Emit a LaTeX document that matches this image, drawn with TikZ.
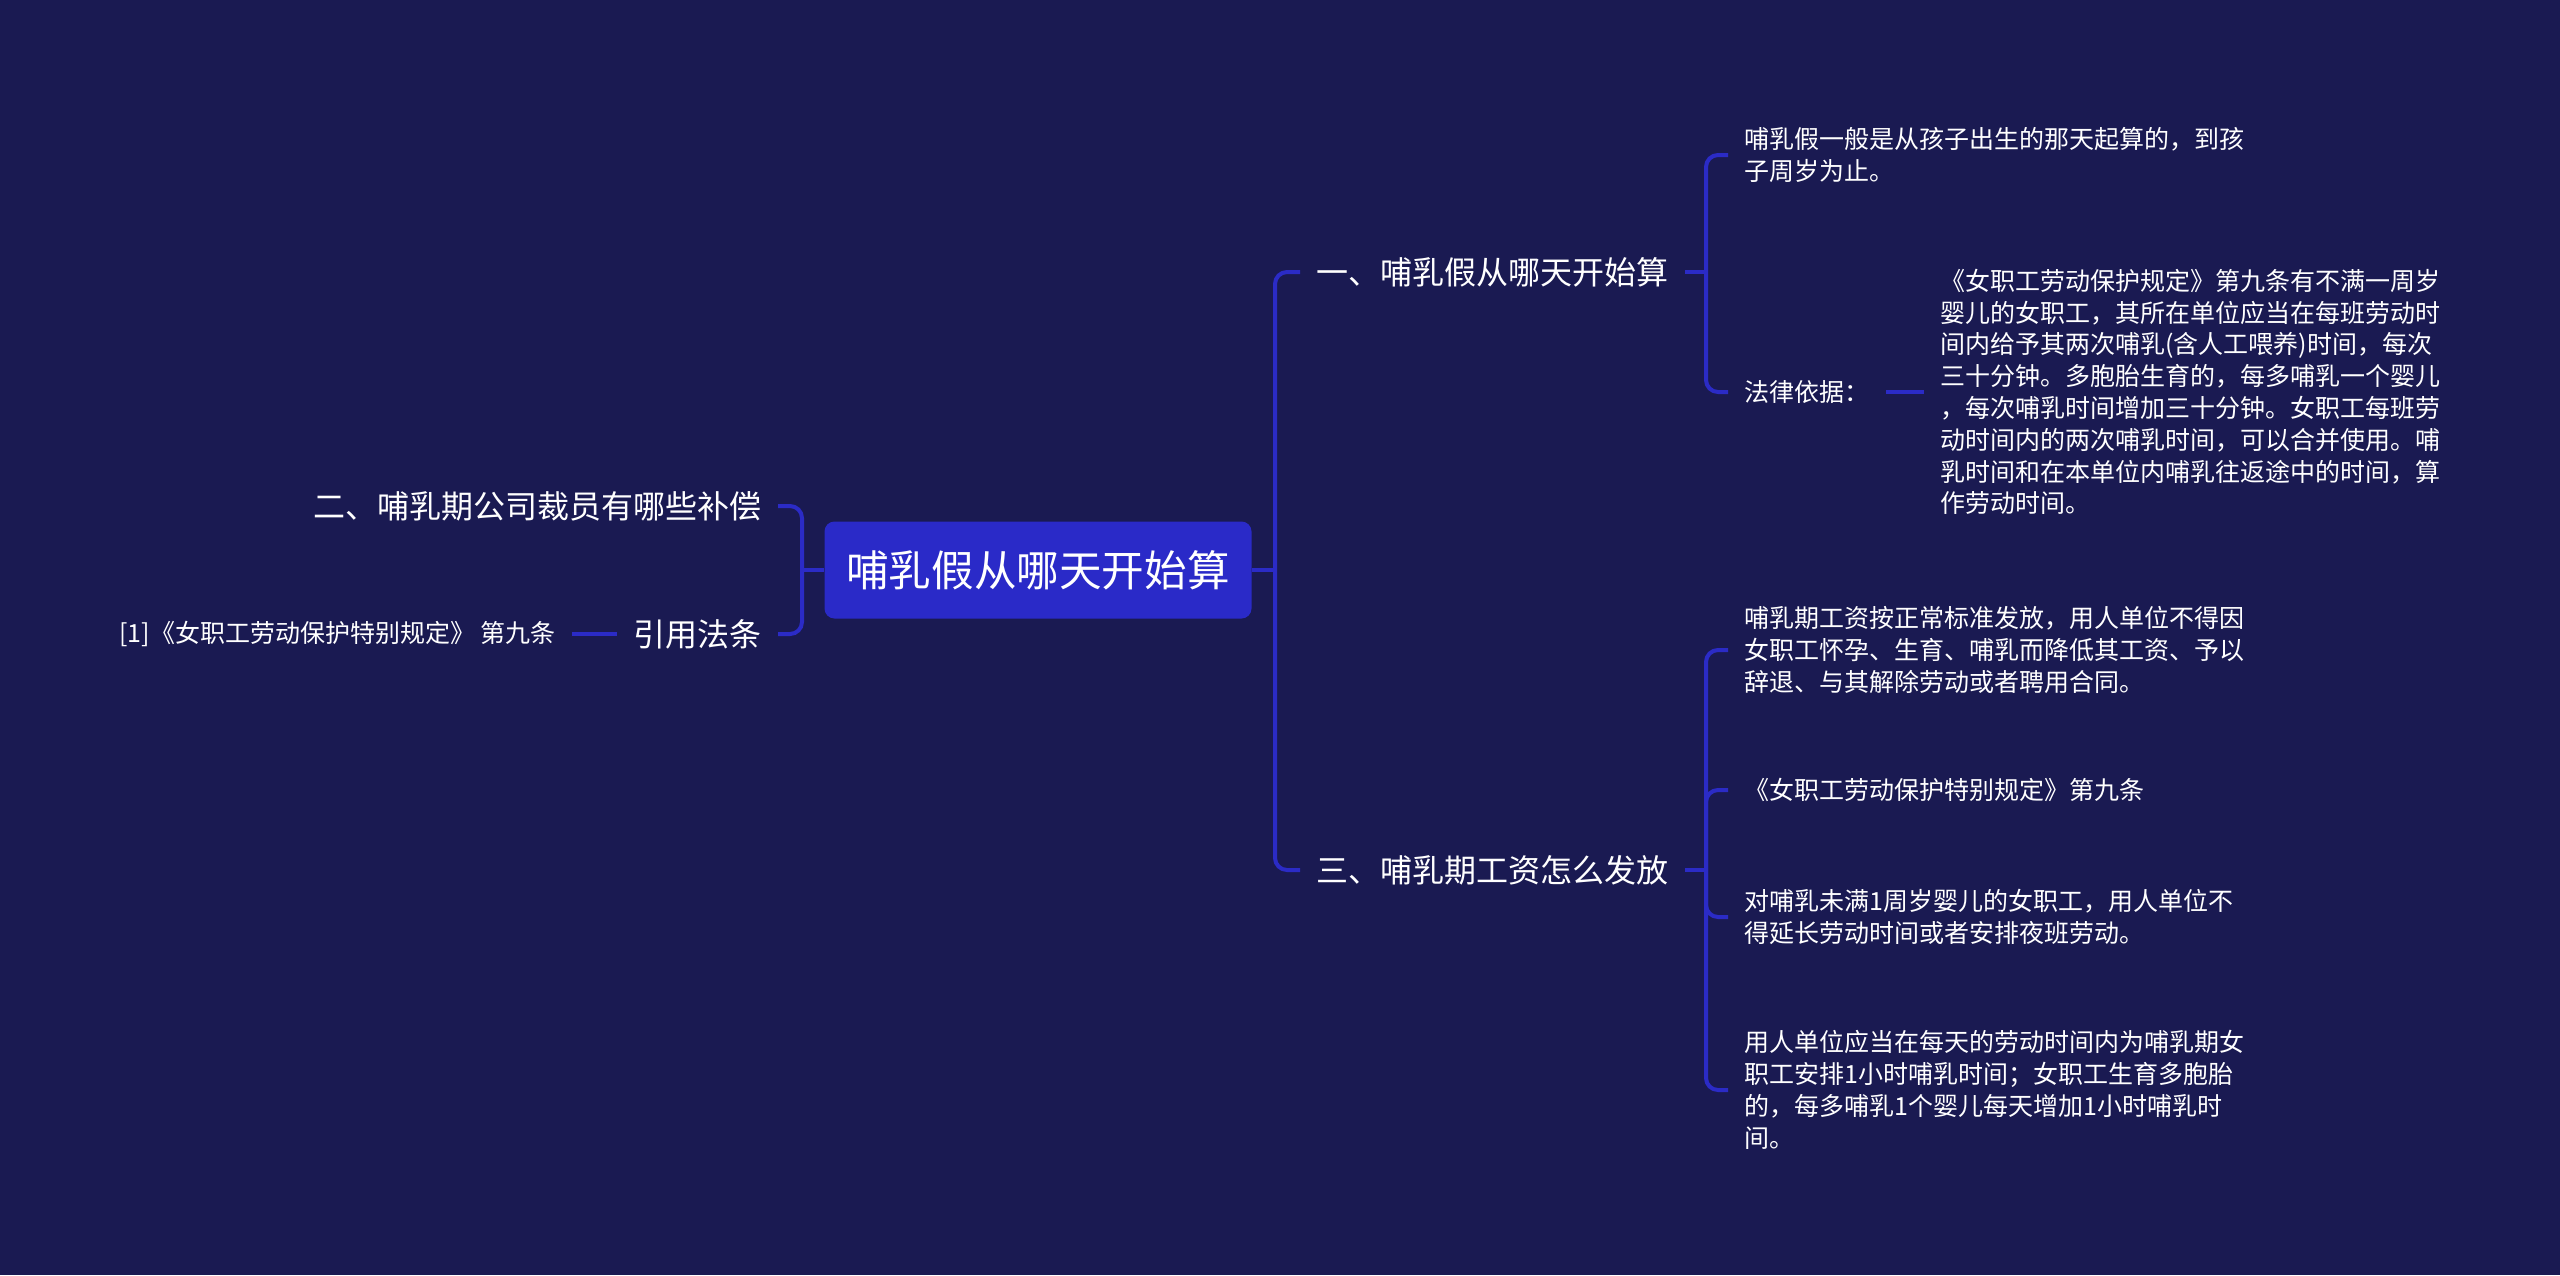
\documentclass[tikz,border=0pt]{standalone}
\usepackage{fontspec}
\setmainfont{Noto Sans CJK SC}
\usetikzlibrary{positioning}
\definecolor{bgnavy}{HTML}{1A1A52}
\definecolor{rootblue}{HTML}{2A2AC8}
\definecolor{linkblue}{HTML}{2B2BC6}
\tikzstyle{rootbox}=[rectangle,rounded corners=5pt,fill=rootblue,text=white,minimum width=213.5pt,minimum height=48.5pt,font=\fontsize{21.3}{26}\selectfont]
\tikzstyle{topic}=[inner xsep=8pt,text=white,font=\fontsize{16}{20}\selectfont]
\tikzstyle{leaf}=[inner xsep=8pt,text=white,align=left,font=\fontsize{12.5}{15.9}\selectfont]
\tikzstyle{conn}=[draw=linkblue,line width=2pt]
\tikzstyle{elbow}=[conn,rounded corners=6pt]
\begin{document}
\begin{tikzpicture}[x=0.5pt,y=-0.5pt]
\fill[bgnavy] (0,0) rectangle (2560,1275);
\node (root) [rootbox] at (1038,570) {哺乳假从哪天开始算};
% right side
\node (one) [topic,anchor=west] at (1300,272) {一、哺乳假从哪天开始算};
\node (three) [topic,anchor=west] at (1300,870) {三、哺乳期工资怎么发放};
\node (a1) [leaf,anchor=west] at (1728,155) {哺乳假一般是从孩子出生的那天起算的，到孩\\子周岁为止。};
\node (basis) [leaf,anchor=west] at (1728,392) {法律依据：};
\node (law) [leaf,right=19pt of basis] {《女职工劳动保护规定》第九条有不满一周岁\\婴儿的女职工，其所在单位应当在每班劳动时\\间内给予其两次哺乳(含人工喂养)时间，每次\\三十分钟。多胞胎生育的，每多哺乳一个婴儿\\，每次哺乳时间增加三十分钟。女职工每班劳\\动时间内的两次哺乳时间，可以合并使用。哺\\乳时间和在本单位内哺乳往返途中的时间，算\\作劳动时间。};
\node (c1) [leaf,anchor=west] at (1728,650) {哺乳期工资按正常标准发放，用人单位不得因\\女职工怀孕、生育、哺乳而降低其工资、予以\\辞退、与其解除劳动或者聘用合同。};
\node (c2) [leaf,anchor=west] at (1728,790) {《女职工劳动保护特别规定》第九条};
\node (c3) [leaf,anchor=west] at (1728,917) {对哺乳未满1周岁婴儿的女职工，用人单位不\\得延长劳动时间或者安排夜班劳动。};
\node (c4) [leaf,anchor=west] at (1728,1090) {用人单位应当在每天的劳动时间内为哺乳期女\\职工安排1小时哺乳时间；女职工生育多胞胎\\的，每多哺乳1个婴儿每天增加1小时哺乳时\\间。};
% left side
\node (two) [topic,anchor=east] at (778,506) {二、哺乳期公司裁员有哪些补偿};
\node (cite) [topic,anchor=east] at (778,634) {引用法条};
\node (ref) [leaf,left=22.5pt of cite] {[1]《女职工劳动保护特别规定》 第九条};
% links
\coordinate (rj) at (1275,570);
\coordinate (lj) at (802,570);
\coordinate (j1) at (1706,272);
\coordinate (j3) at (1706,870);
\draw[conn] (root.east) -- (rj);
\draw[elbow] (rj) |- (one.west);
\draw[elbow] (rj) |- (three.west);
\draw[conn] (root.west) -- (lj);
\draw[elbow] (lj) |- (two.east);
\draw[elbow] (lj) |- (cite.east);
\draw[conn] (cite.west) -- (ref.east);
\draw[conn] (one.east) -- (j1);
\draw[elbow] (j1) |- (a1.west);
\draw[elbow] (j1) |- (basis.west);
\draw[conn] (basis.east) -- (law.west);
\draw[conn] (three.east) -- (j3);
\draw[elbow] (j3) |- (c1.west);
\draw[elbow] (j3) |- (c2.west);
\draw[elbow] (j3) |- (c3.west);
\draw[elbow] (j3) |- (c4.west);
\end{tikzpicture}
\end{document}
